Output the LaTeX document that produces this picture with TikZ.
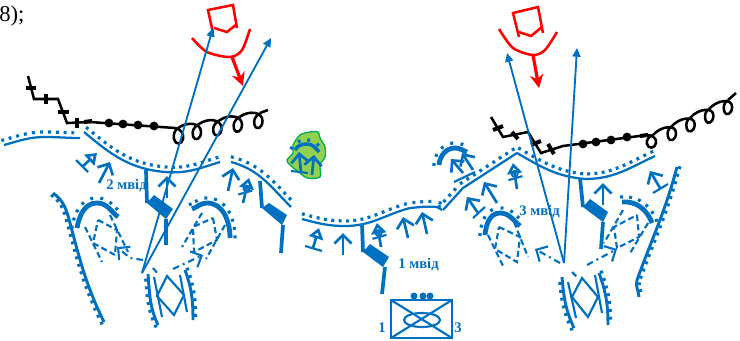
\documentclass[tikz,border=0pt]{standalone}
\usepackage{fontspec}
\setmainfont{Liberation Serif}
\usetikzlibrary{arrows.meta,calc,decorations.pathreplacing}
\definecolor{troopblue}{HTML}{0070C0}
\definecolor{woodfill}{HTML}{92D050}
\definecolor{woodline}{HTML}{00B050}
\tikzset{
  frontline/.style={draw=troopblue,line width=1.7pt},
  frontdots/.style={postaction={draw=troopblue,decorate,decoration={ticks,segment length=5.8pt,amplitude=1.2pt,raise=#1},line width=2.2pt}},
  thickarc/.style={draw=troopblue,line width=3.6pt},
  thinline/.style={draw=troopblue,line width=1.6pt},
  flankline/.style={draw=troopblue,line width=2.2pt},
  gunline/.style={draw=troopblue,line width=2.8pt},
  longarrow/.style={draw=troopblue,line width=1.4pt,-{Triangle[length=6.5pt,width=6pt]}},
  unitarrow/.style={draw=troopblue,line width=2pt,-{Straight Barb[length=6.5pt,width=13pt]}},
  unittri/.style={draw=troopblue,line width=2pt,-{Triangle[open,length=8pt,width=11pt]}},
  dashbox/.style={draw=troopblue,line width=1.6pt,dash pattern=on 4.5pt off 2.5pt},
  dashdot/.style={draw=troopblue,line width=1.6pt,dash pattern=on 5pt off 3pt on 1.5pt off 3pt,-{Straight Barb[length=6.5pt,width=13pt]}},
  blackline/.style={draw=black,line width=1.9pt},
  blackbar/.style={draw=black,line width=3pt},
  redline/.style={draw=red,line width=1.9pt},
  redarrow/.style={draw=red,line width=2.4pt,-{Stealth[length=10pt,width=10pt]}},
  unitlabel/.style={text=troopblue,font=\fontsize{11}{12}\selectfont\bfseries,inner sep=0pt}
}
\newcommand{\gunpost}[7]{
  \draw[gunline] (#1) -- (#2);
  \fill[troopblue] (#2) -- (#3) -- (#4) -- (#5) -- cycle;
  \draw[gunline] (#6) -- (#7);
}
\newcommand{\signalpost}[2]{
  \draw[unittri] (#1) -- (#2);
  \draw[draw=troopblue,line width=1.4pt] ($(#1)!0.58!(#2)$) circle (3);
  \draw[draw=troopblue,line width=1.6pt] ($(#1)!0.38!(#2)+(-7,1)$) -- ($(#1)!0.38!(#2)+(7,-3)$);
}
\begin{document}
\begin{tikzpicture}[x=0.75pt,y=-0.75pt]
\useasboundingbox (0,0) rectangle (740,340);
\node[anchor=west,inner sep=0pt,font=\fontsize{17}{20}\selectfont] (itemno) at (-1,16) {8);};
\coordinate (leftbase) at (142,273);
\coordinate (rightbase) at (564,263);
\coordinate (lefttipa) at (213,28);
\coordinate (lefttipb) at (271,38);
\coordinate (righttipa) at (507,53);
\coordinate (righttipb) at (577,48);
\draw[redline] (213,33) -- (208,10) -- (233,5) -- (237,28);
\draw[redline] (214,28) -- (227,32) -- (237,24);
\draw[redline] plot[smooth] coordinates {(192,38) (207,52) (230,57) (242,50) (250,29)};
\draw[redarrow] (232,57) -- (243,86);
\draw[redline] (519,37) -- (513,13) -- (538,7) -- (543,33);
\draw[redline] (519,32) -- (531,36) -- (542,27);
\draw[redline] plot[smooth] coordinates {(499,29) (513,48) (533,55) (545,50) (557,32)};
\draw[redarrow] (533,55) -- (539,88);
\draw[blackline] (28,76) -- (34,99) -- (58,99) -- (67,123) -- (90,122) -- (175,128);
\foreach \px/\py/\qx/\qy in {26/88/36/88,46/94/46/104,58/112/69/112,77/118/77/128,84/122/92/121}
  \draw[blackbar] (\px,\py) -- (\qx,\qy);
\foreach \dotx/\doty in {109/123,123/124,138/125,154/126}
  \fill (\dotx,\doty) circle (4.4);
\draw[blackline] (175,128) .. controls (181,129) and (184,134) .. (183,139) .. controls (182,145) and (175,145) .. (174,139) .. controls (173,134) and (175,130) .. (178,128);
\foreach \i in {0,1,2,3}
  \draw[blackline,shift={(178+20.5*\i,128-3.7*\i)}] (0,0) .. controls (10,-7) and (23,-5) .. (23,4) .. controls (23,11) and (17,14) .. (15,8) .. controls (14,3) and (15,0) .. (20.5,-3.7);
\draw[blackline] (260,113) -- (268,110);
\draw[blackline] (491,117) -- (503,137) -- (528,132) -- (541,153) -- (563,146) -- (647,135);
\foreach \px/\py/\qx/\qy in {493/130/503/126,512/132/518/139,531/145/541/141,548/144/554/154,640/136/648/135}
  \draw[blackbar] (\px,\py) -- (\qx,\qy);
\foreach \dotx/\doty in {583/144,596/142,611/140,627/137}
  \fill (\dotx,\doty) circle (4.4);
\draw[blackline] (647,135) .. controls (653,135) and (657,139) .. (656,143) .. controls (655,149) and (648,149) .. (647,144) .. controls (646,140) and (649,136) .. (653,135);
\foreach \i in {0,1,2,3}
  \draw[blackline,shift={(653+18.7*\i,135-8.7*\i)}] (0,0) .. controls (8,-9) and (23,-11) .. (23,-2) .. controls (23,5) and (17,8) .. (15,2) .. controls (14,-3) and (15,-6) .. (18.7,-8.7);
\draw[blackline] (728,100) -- (736,93);
\draw[frontline,frontdots=3.8pt] (4,145) to[out=15,in=180] (45,137) to[out=0,in=180] (80,138);
\draw[frontline,frontdots=3.8pt] (84,132) to[out=-40,in=175] (165,172) to[out=-5,in=197] (220,162);
\draw[frontline,frontdots=3.8pt] (231,162) to[out=-15,in=135] (291,207);
\draw[frontline,frontdots=3.8pt] (302,219) to[out=-15,in=180] (345,226) to[out=0,in=195] (410,208) to[out=5,in=175] (437,207) -- (442,210);
\draw[frontline,frontdots=3.8pt] (443,210) -- (463,188) -- (517,153);
\draw[frontline,frontdots=3.8pt] (517,153) to[out=-30,in=175] (585,179) to[out=0,in=205] (655,156);
\draw[flankline,frontdots=2pt] (104,322) to[out=116,in=-75] (70,223) to[out=105,in=-35] (53,193);
\draw[flankline,frontdots=2pt] (677,167) to[out=-105,in=70] (637,280) to[out=-105,in=95] (639,297);
\draw[flankline,frontdots=2pt] (158,325) to[out=115,in=-85] (148,274);
\draw[flankline,frontdots=2pt] (185,270) to[out=-70,in=90] (193,320);
\draw[flankline,frontdots=2pt] (574,328) to[out=115,in=-85] (562,277);
\draw[flankline,frontdots=2pt] (599,273) to[out=-70,in=90] (608,325);
\draw[thinline] (154,277) -- (162,317);
\draw[thinline] (180,275) -- (187,312);
\draw[thinline] (167,276) -- (184,295) -- (174,315) -- (157,296) -- cycle;
\draw[thinline] (568,282) -- (576,318);
\draw[thinline] (595,275) -- (602,313);
\draw[thinline] (582,278) -- (598,297) -- (588,317) -- (572,297) -- cycle;
\draw[thickarc,frontdots=3.8pt] (77,228) to[out=80,in=180] (97,203) to[out=0,in=140] (118,217);
\draw[thickarc,frontdots=3.8pt] (192,209) to[out=20,in=180] (207,203) to[out=0,in=90] (230,238);
\draw[thickarc,frontdots=3.8pt] (485,235) to[out=85,in=180] (500,213) to[out=0,in=140] (520,226);
\draw[thickarc,frontdots=3.8pt] (622,202) to[out=5,in=110] (652,223);
\draw[thickarc,frontdots=3.8pt] (439,165) to[out=85,in=180] (455,148) to[out=0,in=160] (467,152);
\draw[dashbox] (98,220) -- (117,230) -- (115,255) -- (93,243) -- cycle;
\draw[dashbox] (85,227) -- (102,262);
\draw[dashbox] (110,215) -- (128,252);
\draw[dashbox] (213,218) -- (217,240) -- (194,252) -- (193,227) -- cycle;
\draw[dashbox] (202,213) -- (182,247);
\draw[dashbox] (225,225) -- (206,259);
\draw[dashbox] (499,227) -- (520,237) -- (517,262) -- (495,249) -- cycle;
\draw[dashbox] (488,235) -- (504,268);
\draw[dashbox] (514,222) -- (528,257);
\draw[dashbox] (637,215) -- (639,237) -- (617,248) -- (614,227) -- cycle;
\draw[dashbox] (623,210) -- (604,243);
\draw[dashbox] (648,223) -- (629,255);
\draw[dashdot] (143,260) -- (130,258) -- (117,247);
\draw[dashdot] (173,269) -- (203,255);
\draw[dashdot] (560,263) -- (535,249);
\draw[dashdot] (587,265) -- (617,249);
\draw[dashbox] (153,268) -- (158,274);
\draw[dashbox] (572,272) -- (577,277);
\draw[longarrow] (leftbase) -- (lefttipa);
\draw[longarrow] (leftbase) -- (lefttipb);
\draw[longarrow] (rightbase) -- (righttipa);
\draw[longarrow] (rightbase) -- (righttipb);
\gunpost{146,170}{147,203}{154,195}{173,209}{166,219}{166,219}{166,245}
\gunpost{260,181}{262,208}{269,203}{287,215}{282,225}{283,225}{281,253}
\gunpost{362,224}{363,252}{370,244}{389,257}{383,267}{385,267}{382,294}
\gunpost{580,178}{583,207}{590,199}{608,212}{603,222}{603,222}{601,249}
\foreach \tailx/\taily/\tipx/\tipy in {99/183/110/162,167/198/167/176,228/191/233/168,343/255/343/233,408/238/403/217,427/234/422/212,478/213/467/197,497/203/484/182,603/205/603/183,660/188/650/171,463/173/451/159,473/170/462/153}
  \draw[unitarrow] (\tailx,\taily) -- (\tipx,\tipy);
\draw[unittri] (82,167) -- (97,153);
\draw[thinline] (76,160) -- (88,172);
\draw[unittri] (313,248) -- (319,228);
\draw[thinline] (305,246) -- (322,251);
\draw[thinline] (473,218) -- (485,207);
\draw[thinline] (653,193) -- (668,184);
\draw[thinline] (454,182) -- (475,172);
\signalpost{243,203}{249,178}
\signalpost{381,247}{377,223}
\signalpost{517,189}{513,163}
\draw[fill=woodfill,draw=woodline,line width=1pt] plot[smooth cycle,tension=0.5] coordinates {(293,145) (300,135) (310,132) (318,132) (320,138) (325,147) (325,157) (320,165) (320,177) (307,178) (300,173) (290,165) (287,160) (293,153)};
\draw[thickarc,line width=2.6pt,frontdots=3pt] (295,150) to[out=60,in=180] (307,144) to[out=0,in=130] (319,152);
\draw[unitarrow] (301,172) -- (299,152);
\draw[unitarrow] (312,175) -- (314,155);
\draw[thinline] (291,171) -- (308,173);
\node[unitlabel,anchor=west] (batone) at (398,265) {1 мвід};
\node[unitlabel,anchor=west] (battwo) at (106,186) {2 мвід};
\node[unitlabel,anchor=west] (batthree) at (519,212) {3 мвід};
\draw[draw=troopblue,line width=2pt] (391,300) rectangle (452,338);
\draw[thinline] (391,300) -- (452,338);
\draw[thinline] (452,300) -- (391,338);
\draw[thinline] (422,320) ellipse (18 and 7);
\foreach \dotx in {414,423,430}
  \fill[troopblue] (\dotx,296) circle (3.5);
\node[unitlabel,anchor=center] (leftnum) at (382,328) {1};
\node[unitlabel,anchor=center] (rightnum) at (458,328) {3};
\end{tikzpicture}
\end{document}
